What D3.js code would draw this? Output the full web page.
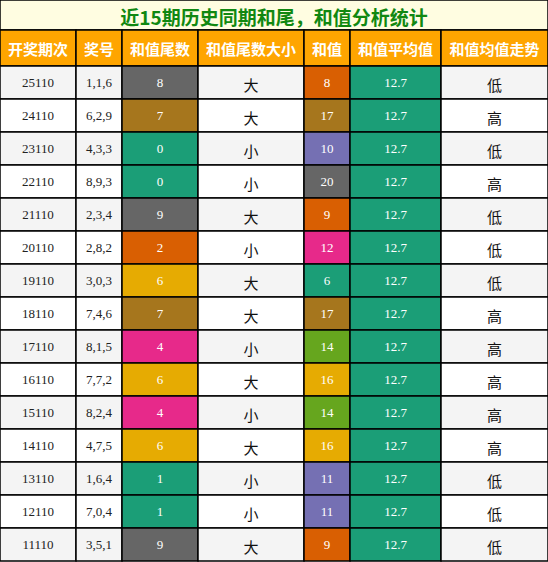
<!DOCTYPE html><html><head><meta charset="utf-8"><script src="https://cdn.jsdelivr.net/npm/d3@7"></script>
<style>body{margin:0;background:#fff}</style></head><body><svg id="c" width="548" height="562"></svg>
<script>
const title="近15期历史同期和尾，和值分析统计";
const headers=["开奖期次","奖号","和值尾数","和值尾数大小","和值","和值平均值","和值均值走势"];
const periods=["25110","24110","23110","22110","21110","20110","19110","18110","17110","16110","15110","14110","13110","12110","11110"];
const draws=["1,1,6","6,2,9","4,3,3","8,9,3","2,3,4","2,8,2","3,0,3","7,4,6","8,1,5","7,7,2","8,2,4","4,7,5","1,6,4","7,0,4","3,5,1"];
const tails=[8,7,0,0,9,2,6,7,4,6,4,6,1,1,9];
const sizes=["大","大","小","小","大","小","大","大","小","大","小","大","小","小","大"];
const sums=[8,17,10,20,9,12,6,17,14,16,14,16,11,11,9];
const avgs=[12.7,12.7,12.7,12.7,12.7,12.7,12.7,12.7,12.7,12.7,12.7,12.7,12.7,12.7,12.7];
const trends=["低","高","低","高","低","低","低","高","高","高","高","高","低","低","低"];
const tailColor=d3.scaleOrdinal().domain([0,1,2,4,6,7,8,9]).range(["#1b9e77","#1b9e77","#d95f02","#e7298a","#e6ab02","#a6761d","#666666","#666666"]);
const sumColor=d3.scaleOrdinal().domain([6,8,9,10,11,12,14,16,17,20]).range(["#1b9e77","#d95f02","#d95f02","#7570b3","#7570b3","#e7298a","#66a61e","#e6ab02","#a6761d","#666666"]);
const svg=d3.select("#c");
const W=548,titleH=30,headH=36,rowH=33;
const edges=[0,76,122,198,304,350,441,548];
const y=d3.scaleBand().domain(d3.range(15)).range([titleH+headH,titleH+headH+15*rowH]);
svg.append("rect").attr("x",0).attr("y",0).attr("width",W).attr("height",titleH).attr("fill","#fffde1").attr("stroke","#000").attr("stroke-width",1.5);
svg.append("text").attr("x",W/2).attr("y",titleH/2+1).attr("text-anchor","middle").attr("dominant-baseline","central").attr("font-family","Noto Sans CJK SC").attr("font-weight","bold").attr("font-size",19).attr("fill","#118811").text(title);
headers.forEach((h,i)=>{
 svg.append("rect").attr("x",edges[i]).attr("y",titleH).attr("width",edges[i+1]-edges[i]).attr("height",headH).attr("fill","#ffa500").attr("stroke","#000").attr("stroke-width",1.5);
 svg.append("text").attr("x",(edges[i]+edges[i+1])/2).attr("y",titleH+headH/2).attr("text-anchor","middle").attr("dominant-baseline","central").attr("font-family","Noto Sans CJK SC").attr("font-weight","bold").attr("font-size",15).attr("fill","#fff").text(h);
});
periods.forEach((p,r)=>{
 const base=r%2===0?"#f4f4f4":"#ffffff";
 const cells=[
  [p,base,"#222","serif"],[draws[r],base,"#222","serif"],
  [tails[r],tailColor(tails[r]),"#fff","serif"],[sizes[r],base,"#111","sans"],
  [sums[r],sumColor(sums[r]),"#fff","serif"],[avgs[r],"#1b9e77","#fff","serif"],[trends[r],base,"#111","sans"]];
 cells.forEach((c,i)=>{
  svg.append("rect").attr("x",edges[i]).attr("y",y(r)).attr("width",edges[i+1]-edges[i]).attr("height",y.bandwidth()).attr("fill",c[1]).attr("stroke","#000").attr("stroke-width",1.5);
  svg.append("text").attr("x",(edges[i]+edges[i+1])/2).attr("y",y(r)+rowH/2+(c[3]==="sans"?2:0)).attr("text-anchor","middle").attr("dominant-baseline","central")
   .attr("font-family",c[3]==="sans"?"Noto Sans CJK SC":"Liberation Serif").attr("font-size",c[3]==="sans"?15:13).attr("fill",c[2]).text(c[0]);
 });
});
</script></body></html>
